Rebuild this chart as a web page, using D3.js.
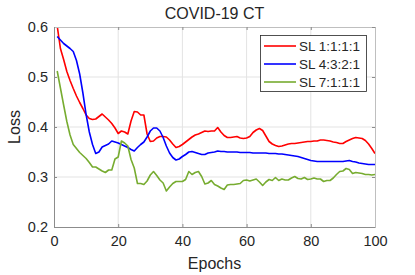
<!DOCTYPE html>
<html lang="en">
<head>
<meta charset="utf-8">
<title>COVID-19 CT</title>
<script src="https://cdn.jsdelivr.net/npm/d3@7"></script>
<style>
  body { margin: 0; background: #fff; }
  text { font-family: "Liberation Sans", Arial, Helvetica, sans-serif; fill: #262626; }
</style>
</head>
<body>
<div id="chart"></div>
<script>
// values
var seriesNames = ["SL 1:1:1:1", "SL 4:3:2:1", "SL 7:1:1:1"]
var xTicks = [0, 20, 40, 60, 80, 100]
var yTicks = [0.2, 0.3, 0.4, 0.5, 0.6]

var epochs = d3.range(1, 101)

var lossSL1111 = [0.602,0.557,0.535,0.511,0.493,0.477,0.462,0.449,0.437,0.424,
  0.417,0.415,0.416,0.421,0.426,0.420,0.414,0.407,0.398,0.387,
  0.392,0.390,0.386,0.412,0.431,0.430,0.424,0.424,0.386,0.371,
  0.372,0.378,0.381,0.381,0.380,0.374,0.366,0.359,0.361,0.365,
  0.370,0.375,0.380,0.384,0.386,0.389,0.392,0.391,0.392,0.392,
  0.399,0.390,0.383,0.379,0.379,0.380,0.381,0.378,0.377,0.378,
  0.381,0.389,0.394,0.397,0.393,0.382,0.371,0.366,0.363,0.361,
  0.362,0.364,0.366,0.367,0.367,0.368,0.369,0.370,0.371,0.371,
  0.372,0.372,0.374,0.374,0.373,0.372,0.370,0.369,0.367,0.367,
  0.371,0.374,0.377,0.379,0.378,0.377,0.373,0.366,0.357,0.347]

var lossSL4321 = [0.581,0.574,0.567,0.562,0.557,0.551,0.533,0.506,0.468,0.425,
  0.390,0.365,0.347,0.350,0.360,0.363,0.366,0.372,0.370,0.368,
  0.365,0.362,0.359,0.355,0.352,0.359,0.365,0.370,0.380,0.392,
  0.398,0.398,0.392,0.379,0.362,0.348,0.339,0.334,0.336,0.341,
  0.345,0.350,0.351,0.349,0.347,0.345,0.345,0.348,0.349,0.350,
  0.352,0.351,0.351,0.350,0.350,0.350,0.350,0.349,0.349,0.349,
  0.349,0.348,0.348,0.348,0.348,0.348,0.347,0.347,0.347,0.346,
  0.346,0.345,0.344,0.343,0.342,0.341,0.339,0.337,0.335,0.333,
  0.332,0.331,0.331,0.331,0.331,0.331,0.331,0.331,0.331,0.331,
  0.332,0.333,0.331,0.330,0.328,0.327,0.326,0.325,0.325,0.325]

var lossSL7111 = [0.512,0.478,0.444,0.411,0.384,0.365,0.357,0.349,0.343,0.337,
  0.329,0.320,0.320,0.316,0.312,0.309,0.314,0.314,0.336,0.340,
  0.372,0.368,0.362,0.335,0.318,0.287,0.287,0.285,0.292,0.304,
  0.311,0.303,0.294,0.288,0.272,0.280,0.287,0.291,0.291,0.291,
  0.295,0.311,0.305,0.309,0.311,0.301,0.286,0.288,0.293,0.285,
  0.282,0.278,0.275,0.284,0.285,0.285,0.286,0.287,0.293,0.294,
  0.292,0.294,0.296,0.290,0.283,0.290,0.295,0.293,0.299,0.293,
  0.296,0.294,0.294,0.298,0.301,0.297,0.296,0.299,0.295,0.296,
  0.298,0.296,0.296,0.291,0.293,0.293,0.298,0.305,0.311,0.312,
  0.317,0.315,0.307,0.309,0.308,0.307,0.305,0.305,0.304,0.305]

var colors = ["#ff0000", "#0000ff", "#77ac30"]
var allLoss = [lossSL1111, lossSL4321, lossSL7111]

var w = 415, h = 275
var mLeft = 54, mRight = 375, mTop = 27, mBottom = 227

var svg = d3.select("#chart").append("svg")
  .attr("width", w).attr("height", h)

var xScale = d3.scaleLinear().domain([0, 100]).range([mLeft, mRight])
var yScale = d3.scaleLinear().domain([0.2, 0.6]).range([mBottom, mTop])

// grid
svg.append("g").selectAll("line").data(xTicks.slice(1, -1)).enter().append("line")
  .attr("x1", d => xScale(d)).attr("x2", d => xScale(d))
  .attr("y1", mTop).attr("y2", mBottom)
  .attr("stroke", "#e3e3e3").attr("stroke-width", 1)
svg.append("g").selectAll("line").data(yTicks.slice(1, -1)).enter().append("line")
  .attr("x1", mLeft).attr("x2", mRight)
  .attr("y1", d => yScale(d)).attr("y2", d => yScale(d))
  .attr("stroke", "#e3e3e3").attr("stroke-width", 1)

// clip for lines
svg.append("clipPath").attr("id", "clip").append("rect")
  .attr("x", mLeft).attr("y", mTop).attr("width", mRight - mLeft).attr("height", mBottom - mTop)

var line = d3.line()
  .x((d, i) => xScale(epochs[i]))
  .y(d => yScale(d))

svg.append("g").attr("clip-path", "url(#clip)")
  .selectAll("path").data(allLoss).enter().append("path")
  .attr("d", line)
  .attr("fill", "none")
  .attr("stroke", (d, i) => colors[i])
  .attr("stroke-width", 1.6)
  .attr("stroke-linejoin", "round")

// axes (ticks inward, MATLAB style)
var xAxis = d3.axisBottom(xScale).tickValues(xTicks).tickSize(-3).tickPadding(9).tickFormat(d3.format("d"))
var yAxis = d3.axisLeft(yScale).tickValues(yTicks).tickSize(-3).tickPadding(6).tickFormat(d3.format(".1f"))

var gx = svg.append("g").attr("transform", "translate(0," + mBottom + ")").call(xAxis)
var gy = svg.append("g").attr("transform", "translate(" + mLeft + ",0)").call(yAxis)
var gxTop = svg.append("g").attr("transform", "translate(0," + mTop + ")")
  .call(d3.axisTop(xScale).tickValues(xTicks).tickSize(-3).tickFormat(""))
var gyRight = svg.append("g").attr("transform", "translate(" + mRight + ",0)")
  .call(d3.axisRight(yScale).tickValues(yTicks).tickSize(-3).tickFormat(""))

;[gx, gy, gxTop, gyRight].forEach(function (g) {
  g.select(".domain").attr("stroke", "#8c8c8c").attr("stroke-width", 1)
  g.selectAll(".tick line").attr("stroke", "#8c8c8c")
  g.selectAll(".tick text").attr("font-size", "14.5px").attr("fill", "#262626")
})
gxTop.select(".domain").attr("stroke", "#bfbfbf")
gyRight.select(".domain").attr("stroke", "#bfbfbf")

// title and labels
svg.append("text").attr("x", (mLeft + mRight) / 2).attr("y", 19)
  .attr("text-anchor", "middle").attr("font-size", "16px").text("COVID-19 CT")
svg.append("text").attr("x", (mLeft + mRight) / 2).attr("y", 269)
  .attr("text-anchor", "middle").attr("font-size", "16px").text("Epochs")
svg.append("text").attr("transform", "translate(20," + (mTop + mBottom) / 2 + ") rotate(-90)")
  .attr("text-anchor", "middle").attr("font-size", "16px").text("Loss")

// legend
var lg = svg.append("g")
lg.append("rect").attr("x", 260.5).attr("y", 35.5).attr("width", 106).attr("height", 56)
  .attr("fill", "#fff").attr("stroke", "#262626").attr("stroke-width", 0.8)
var items = lg.selectAll("g.item").data(seriesNames).enter().append("g")
  .attr("transform", (d, i) => "translate(0," + (46 + i * 18) + ")")
items.append("line").attr("x1", 264).attr("x2", 296).attr("y1", 0).attr("y2", 0)
  .attr("stroke", (d, i) => colors[i]).attr("stroke-width", 1.6)
items.append("text").attr("x", 299).attr("y", 0).attr("dy", "0.36em")
  .attr("font-size", "13.5px").text(d => d)
</script>
</body>
</html>
